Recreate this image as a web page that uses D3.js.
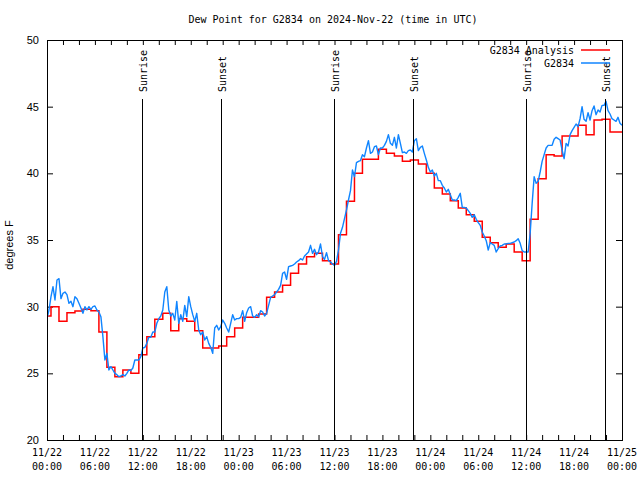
<!DOCTYPE html>
<html>
<head>
<meta charset="utf-8">
<script src="https://cdn.jsdelivr.net/npm/d3@7"></script>
<style>
  html, body { margin: 0; padding: 0; background: #fff; }
  svg { display: block; }
  .mono { font-family: "DejaVu Sans Mono", monospace; font-size: 10px; fill: #000; }
  .sans { font-family: "Liberation Sans", Arial, sans-serif; font-size: 11px; fill: #000; }
</style>
</head>
<body>
<svg id="chart" width="640" height="480"></svg>
<script>
// ---------- DATA ----------
const titleText = "Dew Point for G2834 on 2024-Nov-22 (time in UTC)";
const yLabel = "degrees F";
const startTime = "2024-11-22T00:00:00Z";
const endTime = "2024-11-25T00:00:00Z";
const yTicks = [20, 25, 30, 35, 40, 45, 50];
const seriesNames = ["G2834 Analysis", "G2834"];

// Analysis (hourly, 00:00 .. 72:00)
const analysisValues = [
  29.3, 30.0, 28.9, 29.55, 29.67, 29.8, 29.7, 28.1, 25.45, 24.75,
  25.25, 25.0, 26.4, 27.75, 29.05, 29.5, 28.2, 29.1, 28.9, 28.2,
  26.9, 26.9, 27.05, 27.75, 28.4, 29.2, 29.2, 29.45, 30.7, 31.1,
  31.6, 32.5, 33.2, 33.75, 34.0, 33.45, 33.2, 35.4, 37.9, 40.0,
  41.05, 41.05, 41.8, 41.5, 41.3, 40.9, 41.0, 40.7, 40.0, 38.9,
  38.45, 37.95, 37.4, 36.9, 36.4, 35.2, 34.8, 34.45, 34.7, 34.1,
  33.45, 36.55, 39.6, 41.4, 41.3, 42.8, 42.8, 43.6, 42.9, 44.0,
  44.05, 43.1, 43.1
];

// Station observations (every 15 minutes, 00:00 .. 72:00)
const stationValues = [
  29.1, 29.75, 30.75, 31.5, 30.5, 32.0, 32.1, 30.6, 31.0, 31.1,
  30.9, 30.25, 30.4, 30.0, 30.75, 30.6, 30.25, 29.9, 29.5, 30.0,
  29.75, 30.0, 29.8, 30.0, 30.05, 29.75, 29.6, 29.25, 27.75, 26.0,
  26.5, 25.25, 25.5, 25.25, 25.0, 24.9, 24.75, 24.8, 24.9, 24.8,
  25.0, 25.25, 25.2, 25.4, 26.0, 26.0, 26.0, 26.25, 26.9, 26.95,
  27.25, 27.7, 27.7, 28.1, 28.1, 28.75, 29.1, 29.3, 29.75, 31.1,
  31.5, 29.75, 29.3, 29.5, 29.0, 30.4, 28.75, 29.4, 28.9, 30.1,
  29.25, 30.75, 30.0, 29.4, 28.9, 29.5, 28.25, 27.9, 28.1, 27.5,
  27.75, 27.25, 26.95, 26.5, 28.4, 28.6, 28.25, 28.5, 29.0, 28.75,
  28.4, 28.1, 28.75, 29.4, 29.0, 29.1, 29.1, 29.2, 29.7, 28.9,
  29.55, 29.9, 30.0, 29.3, 29.2, 29.4, 29.25, 29.7, 29.6, 29.3,
  29.5, 30.1, 30.7, 30.8, 30.9, 31.1, 31.3, 31.6, 32.5, 32.6,
  32.05, 33.0, 33.05, 33.1, 33.2, 33.35, 33.45, 33.6, 33.5, 33.8,
  33.95, 34.1, 34.6, 34.0, 34.3, 33.9, 34.1, 34.7, 33.75, 33.55,
  34.05, 33.45, 33.35, 33.2, 33.1, 33.4, 34.25, 35.5, 35.95, 36.6,
  37.25, 38.0, 38.7, 40.25, 39.75, 40.8, 40.9, 40.95, 41.4, 41.25,
  41.9, 42.45, 41.5, 41.6, 42.0, 42.05, 41.4, 41.9, 41.9, 42.1,
  42.4, 42.9, 42.25, 42.1, 42.7, 41.9, 42.9, 42.25, 41.55, 41.6,
  41.5, 41.7, 41.75, 41.6, 42.45, 42.6, 41.7, 41.95, 42.05, 41.5,
  41.0, 40.45, 40.1, 40.25, 39.8, 40.0, 39.45, 39.45, 39.1, 38.9,
  38.6, 38.8, 38.4, 38.0, 38.0, 37.95, 38.2, 38.5, 37.45, 37.45,
  37.4, 37.2, 37.0, 36.7, 36.9, 36.55, 36.3, 36.1, 35.6, 35.3,
  34.95, 34.25, 34.8, 34.7, 34.6, 34.1, 34.35, 34.55, 34.6, 34.7,
  34.7, 34.75, 34.75, 34.8, 34.85, 34.95, 35.1, 34.75, 34.2, 34.1,
  34.1, 34.1, 35.5, 37.75, 39.75, 39.25, 39.4, 40.1, 40.9, 41.4,
  41.9, 42.1, 42.1, 42.1, 42.55, 42.7, 42.6, 42.5, 41.75, 41.1,
  42.25, 42.05, 42.9, 43.2, 43.45, 43.7, 43.5, 44.1, 45.0, 44.05,
  43.9, 44.55, 44.0, 44.7, 45.05, 44.4, 44.75, 44.6, 45.1, 45.1,
  45.4, 44.7, 44.45, 44.1, 44.0, 43.9, 44.2, 43.75, 43.6
];

const sunLabels = ["Sunrise", "Sunset", "Sunrise", "Sunset", "Sunrise", "Sunset"];
const sunTimes = [
  "2024-11-22T11:54:00Z", "2024-11-22T21:47:00Z",
  "2024-11-23T11:56:00Z", "2024-11-23T21:50:00Z",
  "2024-11-24T11:58:00Z", "2024-11-24T21:52:00Z"
];

// ---------- CHART ----------
(function () {
const svg = d3.select("#chart");
const pL = 47, pR = 622, pT = 40, pB = 440;
const t0 = new Date(startTime), t1 = new Date(endTime);
const HOUR = 3600 * 1000;

const x = d3.scaleUtc().domain([t0, t1]).range([pL, pR]);
const y = d3.scaleLinear().domain([20, 50]).range([pB, pT]);

const analysis = analysisValues.map((v, i) => ({ t: new Date(+t0 + i * HOUR), v }));
const station = stationValues.map((v, i) => ({ t: new Date(+t0 + i * HOUR / 4), v }));

svg.append("rect").attr("width", 640).attr("height", 480).attr("fill", "#fff");

svg.append("defs").append("clipPath").attr("id", "clip")
  .append("rect").attr("x", pL).attr("y", pT).attr("width", pR - pL).attr("height", pB - pT);

// Title
svg.append("text").attr("class", "mono")
  .attr("x", 333).attr("y", 23).attr("text-anchor", "middle").text(titleText);

// Axes
const tick2h = d3.utcHour.every(2).range(t0, new Date(+t1 + 1));
const tick6h = d3.utcHour.every(6).range(t0, new Date(+t1 + 1));

function clean(g) { g.select(".domain").remove(); g.selectAll("line").attr("stroke", "#000"); }

svg.append("g").attr("transform", `translate(0,${pB})`)
  .call(d3.axisBottom(x).tickValues(tick2h).tickSize(-5).tickFormat(""))
  .call(clean);
svg.append("g").attr("transform", `translate(0,${pT})`)
  .call(d3.axisTop(x).tickValues(tick2h).tickSize(-5).tickFormat(""))
  .call(clean);
svg.append("g").attr("transform", `translate(${pL},0)`)
  .call(d3.axisLeft(y).tickValues(yTicks).tickSize(-6).tickPadding(8).tickFormat(d3.format("d")))
  .call(clean)
  .call(g => g.attr("font-family", null).attr("font-size", null))
  .call(g => g.selectAll("text").attr("class", "sans").attr("fill", null));
svg.append("g").attr("transform", `translate(${pR},0)`)
  .call(d3.axisRight(y).tickValues(yTicks).tickSize(-6).tickFormat(""))
  .call(clean);

// X labels (two lines)
const fmtDate = d3.utcFormat("%m/%d"), fmtTime = d3.utcFormat("%H:%M");
const xl = svg.append("g").selectAll("text").data(tick6h).join("text")
  .attr("class", "mono").attr("text-anchor", "middle");
xl.append("tspan").attr("x", d => x(d)).attr("y", 456).text(d => fmtDate(d));
xl.append("tspan").attr("x", d => x(d)).attr("y", 470).text(d => fmtTime(d));

// Y label
svg.append("text").attr("class", "sans")
  .attr("transform", "translate(13,245) rotate(-90)")
  .attr("text-anchor", "middle").text(yLabel);

// Data
const plot = svg.append("g").attr("clip-path", "url(#clip)");
plot.append("path").datum(analysis)
  .attr("fill", "none").attr("stroke", "#ff0000").attr("stroke-width", 1.5)
  .attr("d", d3.line().curve(d3.curveStep).x(d => x(d.t)).y(d => y(d.v)));
plot.append("path").datum(station)
  .attr("fill", "none").attr("stroke", "#1085ff").attr("stroke-width", 1.4)
  .attr("stroke-linejoin", "round")
  .attr("d", d3.line().x(d => x(d.t)).y(d => y(d.v)));

// Sunrise / Sunset markers
const sun = svg.append("g").selectAll("g")
  .data(sunTimes.map((t, i) => ({ t: new Date(t), label: sunLabels[i] })))
  .join("g");
sun.append("line")
  .attr("x1", d => Math.round(x(d.t)) + 0.5).attr("x2", d => Math.round(x(d.t)) + 0.5)
  .attr("y1", 99).attr("y2", pB).attr("stroke", "#000").attr("stroke-width", 1);
sun.append("text").attr("class", "mono")
  .attr("transform", d => `translate(${Math.round(x(d.t)) + 1},92) rotate(-90)`)
  .attr("dy", "0.35em").attr("text-anchor", "start").text(d => d.label);

// Frame
svg.append("rect").attr("x", pL + 0.5).attr("y", pT + 0.5)
  .attr("width", pR - pL).attr("height", pB - pT)
  .attr("fill", "none").attr("stroke", "#000").attr("stroke-width", 1);

// Legend
const legendColors = ["#ff0000", "#1085ff"];
const lg = svg.append("g").selectAll("g").data(seriesNames).join("g")
  .attr("transform", (d, i) => `translate(0,${50 + i * 13})`);
lg.append("text").attr("class", "mono").attr("x", 574).attr("y", 0).attr("dy", "0.35em")
  .attr("text-anchor", "end").text(d => d);
lg.append("line").attr("x1", 581).attr("x2", 610).attr("y1", 0).attr("y2", 0)
  .attr("stroke", (d, i) => legendColors[i]).attr("stroke-width", 1.5);
})();
</script>
</body>
</html>
